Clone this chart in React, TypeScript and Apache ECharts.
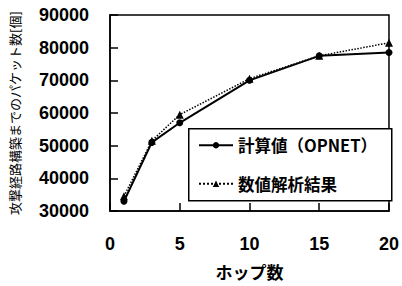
import React, { useEffect, useRef } from "react";
import * as echarts from "echarts";

const hops = [1, 3, 5, 10, 15, 20];
const simValues = [33000, 51000, 57000, 70000, 77500, 78500];
const calcValues = [34500, 51500, 59500, 70500, 77500, 81500];
const seriesNames = ["計算値（OPNET）", "数値解析結果"];
const xTicks = [0, 5, 10, 15, 20];
const yTicks = [30000, 40000, 50000, 60000, 70000, 80000, 90000];
const xName = "ホップ数";
const yName = "攻撃経路構築までのパケット数[個]";

const NUM_FONT = "'Liberation Sans', Arial, sans-serif";
const JP_FONT = "'Noto Sans CJK JP', 'Noto Sans', sans-serif";

export default function App() {
  const ref = useRef<HTMLDivElement>(null);
  useEffect(() => {
    if (!ref.current) return;
    const chart = echarts.init(ref.current, undefined, { renderer: "svg" });
    chart.setOption({
      animation: false,
      backgroundColor: "#fff",
      grid: {
        left: 110,
        right: 11,
        top: 15,
        bottom: 75,
        show: true,
        borderColor: "#000",
        borderWidth: 1.5,
        backgroundColor: "transparent",
      },
      graphic: [
        {
          type: "rect",
          left: 188,
          top: 128,
          shape: { width: 203, height: 72 },
          style: { fill: "#fff", stroke: "#000", lineWidth: 1.5 },
          z: 3,
        },
      ],
      legend: {
        left: 188,
        top: 128,
        orient: "vertical",
        padding: [9, 10, 9, 10],
        itemWidth: 34,
        itemHeight: 8,
        itemGap: 22,
        textStyle: {
          fontFamily: JP_FONT,
          fontSize: 16.5,
          fontWeight: "bold",
          color: "#000",
        },
        data: seriesNames,
      },
      xAxis: {
        type: "value",
        min: xTicks[0],
        max: xTicks[xTicks.length - 1],
        interval: 5,
        name: xName,
        nameLocation: "middle",
        nameGap: 52,
        nameTextStyle: {
          fontFamily: JP_FONT,
          fontSize: 17,
          fontWeight: "bold",
          color: "#000",
        },
        axisLine: { show: true, lineStyle: { color: "#000", width: 1.5 } },
        axisTick: { show: true, inside: true, length: 8, lineStyle: { color: "#000", width: 1.5 } },
        axisLabel: {
          margin: 24,
          fontFamily: NUM_FONT,
          fontSize: 18,
          fontWeight: "bold",
          color: "#000",
        },
        splitLine: { show: false },
      },
      yAxis: {
        type: "value",
        min: yTicks[0],
        max: yTicks[yTicks.length - 1],
        interval: 10000,
        name: yName,
        nameLocation: "middle",
        nameRotate: 90,
        nameGap: 89,
        nameTextStyle: {
          fontFamily: JP_FONT,
          fontSize: 13,
          color: "#000",
        },
        axisLine: { show: true, lineStyle: { color: "#000", width: 1.5 } },
        axisTick: { show: true, inside: true, length: 8, lineStyle: { color: "#000", width: 1.5 } },
        axisLabel: {
          margin: 21,
          fontFamily: NUM_FONT,
          fontSize: 18,
          fontWeight: "bold",
          color: "#000",
          formatter: (v: number) => String(v),
        },
        splitLine: { show: false },
      },
      series: [
        {
          name: seriesNames[0],
          type: "line",
          data: hops.map((h, i) => [h, simValues[i]]),
          symbol: "circle",
          symbolSize: 7,
          lineStyle: { color: "#000", width: 2, type: "solid" },
          itemStyle: { color: "#000" },
          z: 2,
        },
        {
          name: seriesNames[1],
          type: "line",
          data: hops.map((h, i) => [h, calcValues[i]]),
          symbol: "triangle",
          symbolSize: 8,
          lineStyle: { color: "#000", width: 1.5, type: "dotted" },
          itemStyle: { color: "#000" },
          z: 2,
        },
      ],
    });
    return () => chart.dispose();
  }, []);
  return (
    <div
      ref={ref}
      style={{ position: "fixed", left: 0, top: 0, width: 402, height: 286 }}
    />
  );
}
